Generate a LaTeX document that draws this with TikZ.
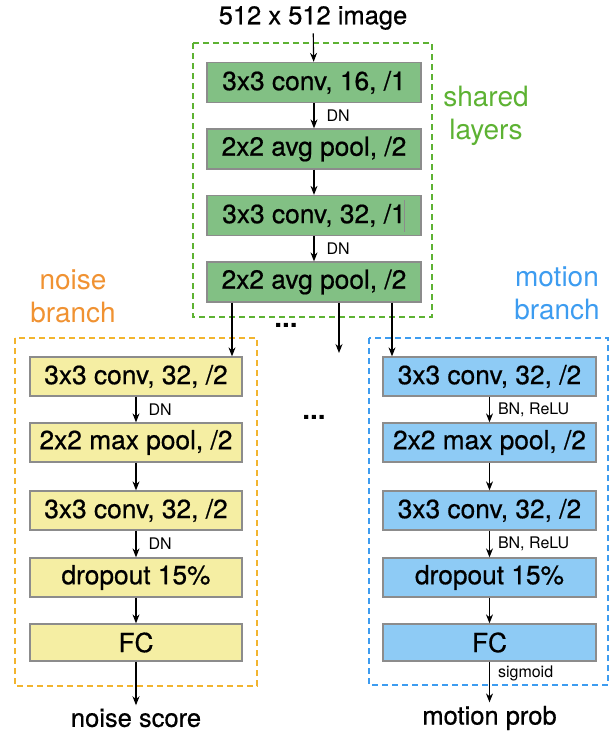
\documentclass[tikz,border=0pt]{standalone}
\usepackage{fontspec}
\setmainfont{TeX Gyre Heros}
\newfontfamily\medfont{TeX Gyre Heros}[FakeBold=0.6]
\usetikzlibrary{arrows.meta}
\definecolor{gfill}{HTML}{82C084}
\definecolor{yfill}{HTML}{F5EEA3}
\definecolor{bfill}{HTML}{8ECBF5}
\definecolor{edgegray}{HTML}{8C8C8C}
\definecolor{gdash}{HTML}{5DB233}
\definecolor{odash}{HTML}{F2B42E}
\definecolor{otext}{HTML}{F09232}
\definecolor{bdash}{HTML}{3D9CF0}
\tikzset{
  layer/.style={draw=edgegray, line width=1.3pt, minimum width=213pt, minimum height=39pt, inner sep=0pt, font=\medfont\fontsize{26.3}{28}\selectfont},
  glayer/.style={layer, fill=gfill, minimum width=214pt, minimum height=40pt},
  ylayer/.style={layer, fill=yfill, minimum width=212pt},
  blayer/.style={layer, fill=bfill},
  arr/.style={-{Stealth[length=9pt,width=7pt]}, line width=1.1pt, black},
  lab/.style={right, inner sep=0pt, font=\fontsize{16}{18}\selectfont},
  grp/.style={dash pattern=on 6pt off 4pt, line width=1.8pt},
  big/.style={font=\medfont\fontsize{25.5}{28}\selectfont},
  brlab/.style={align=center, font=\fontsize{28}{33}\selectfont}
}
\begin{document}
\begin{tikzpicture}[x=1pt,y=-1pt]
\useasboundingbox (0,0) rectangle (611,731);
% group boxes
\draw[grp, gdash] (193,43) rectangle (432,317);
\draw[grp, odash] (15,338) rectangle (257,686);
\draw[grp, bdash] (369,338) rectangle (608,685);
% group labels
\node[brlab, text=gdash] (glab) at (486,116) {shared\\layers};
\node[brlab, text=otext] (olab) at (73,296) {noise\\branch};
\node[brlab, text=bdash] (blab) at (557,293) {motion\\branch};
% title
\node[big] (title) at (313,18) {512 x 512 image};
% shared layers
\node[glayer] (s1) at (314,82.5) {3x3 conv, 16, /1};
\node[glayer] (s2) at (314,149) {2x2 avg pool, /2};
\node[glayer] (s3) at (314,215.5) {3x3 conv, 32, /1};
\node[glayer] (s4) at (314,282) {2x2 avg pool, /2};
\draw[edgegray, line width=0.5pt] (404,200) -- (404,232);
% noise branch
\node[ylayer] (n1) at (136,376.5) {3x3 conv, 32, /2};
\node[ylayer] (n2) at (136,442.5) {2x2 max pool, /2};
\node[ylayer] (n3) at (136,510.5) {3x3 conv, 32, /2};
\node[ylayer] (n4) at (136,577.5) {dropout 15\%};
\node[ylayer, minimum height=37pt] (n5) at (136,642.5) {FC};
\node[big] (nout) at (136,718) {noise score};
% motion branch
\node[blayer] (m1) at (489.5,376.5) {3x3 conv, 32, /2};
\node[blayer] (m2) at (489.5,442.5) {2x2 max pool, /2};
\node[blayer] (m3) at (489.5,510.5) {3x3 conv, 32, /2};
\node[blayer] (m4) at (489.5,577.5) {dropout 15\%};
\node[blayer, minimum height=37pt] (m5) at (489.5,642.5) {FC};
\node[big] (mout) at (489.5,718) {motion prob};
% dots
\node[font=\fontsize{28}{28}\selectfont\bfseries] (dots1) at (286,325) {...};
\node[font=\fontsize{28}{28}\selectfont\bfseries] (dots2) at (314,417) {...};
% split coordinates
\coordinate (cL) at (232,0);
\coordinate (cM) at (339,0);
\coordinate (cR) at (392,0);
\coordinate (mid) at (339,353);
% arrows
\draw[arr] (title) -- (s1);
\draw[arr] (s1) -- node[lab, xshift=12pt]{DN} (s2);
\draw[arr] (s2) -- (s3);
\draw[arr] (s3) -- node[lab, xshift=12pt]{DN} (s4);
\draw[arr] (s4.south -| cL) -- (n1.north -| cL);
\draw[arr] (s4.south -| cM) -- (mid);
\draw[arr] (s4.south -| cR) -- (m1.north -| cR);
\draw[arr] (n1) -- node[lab, xshift=12pt]{DN} (n2);
\draw[arr] (n2) -- (n3);
\draw[arr] (n3) -- node[lab, xshift=12pt]{DN} (n4);
\draw[arr] (n4) -- (n5);
\draw[arr] (n5) -- (nout);
\draw[arr] (m1) -- node[lab, xshift=8pt]{BN, ReLU} (m2);
\draw[arr] (m2) -- (m3);
\draw[arr] (m3) -- node[lab, xshift=8pt]{BN, ReLU} (m4);
\draw[arr] (m4) -- (m5);
\draw[arr] (m5) -- node[lab, xshift=8pt, pos=0.3]{sigmoid} (mout);
\end{tikzpicture}
\end{document}
